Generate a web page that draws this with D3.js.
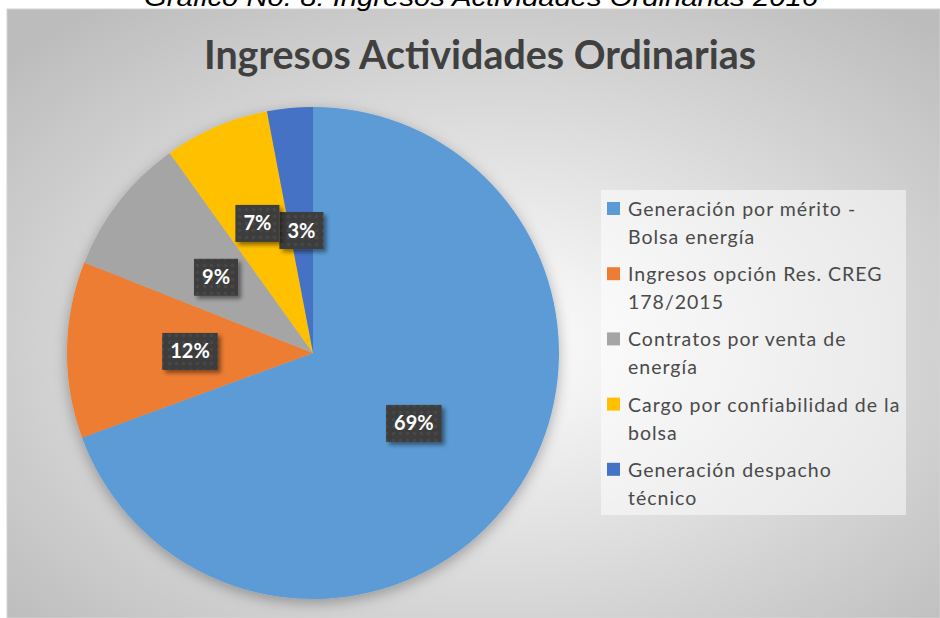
<!DOCTYPE html>
<html>
<head>
<meta charset="utf-8">
<script src="https://cdn.jsdelivr.net/npm/d3@7/dist/d3.min.js"></script>
<style>
  body { margin: 0; background: #fff; }
  svg { display: block; }
</style>
</head>
<body>
<svg id="chart" width="940" height="618"></svg>
<script>
  var caption = 'Gráfico No. 8: Ingresos Actividades Ordinarias 2016';
  var title = 'Ingresos Actividades Ordinarias';
  var categories = [
    'Generación por mérito -\nBolsa energía',
    'Ingresos opción Res. CREG\n178/2015',
    'Contratos por venta de\nenergía',
    'Cargo por confiabilidad de la\nbolsa',
    'Generación despacho\ntécnico'
  ];
  var values = [69.4, 11.6, 9.1, 6.9, 3.0];
  var colors = ['#5b9bd5', '#ed7d31', '#a5a5a5', '#ffc000', '#4472c4'];

  var svg = d3.select('#chart');
  var defs = svg.append('defs');

  // chart area background, white in the middle and grey at the edges
  var grad = defs.append('radialGradient')
    .attr('id', 'bg')
    .attr('cx', '52%').attr('cy', '55%').attr('r', '70%');
  grad.append('stop').attr('offset', '0%').attr('stop-color', '#ffffff');
  grad.append('stop').attr('offset', '100%').attr('stop-color', '#bcbcbc');

  var pieShadow = defs.append('filter').attr('id', 'pieShadow')
    .attr('x', '-20%').attr('y', '-20%').attr('width', '140%').attr('height', '140%');
  pieShadow.append('feDropShadow')
    .attr('dx', 0).attr('dy', 4).attr('stdDeviation', 7)
    .attr('flood-color', '#000').attr('flood-opacity', 0.3);

  var boxShadow = defs.append('filter').attr('id', 'boxShadow')
    .attr('x', '-30%').attr('y', '-30%').attr('width', '170%').attr('height', '170%');
  boxShadow.append('feDropShadow')
    .attr('dx', 3).attr('dy', 3).attr('stdDeviation', 2)
    .attr('flood-color', '#000').attr('flood-opacity', 0.45);

  var dots = defs.append('pattern').attr('id', 'dots')
    .attr('width', 7).attr('height', 7).attr('patternUnits', 'userSpaceOnUse');
  dots.append('rect').attr('width', 7).attr('height', 7).attr('fill', '#3d3d3d');
  dots.append('circle').attr('cx', 3.5).attr('cy', 3.5).attr('r', 1.8).attr('fill', '#474747');

  var area = { x: 7, y: 9, w: 940 - 7, h: 618 - 9 };

  svg.append('rect')
    .attr('x', area.x).attr('y', area.y)
    .attr('width', area.w).attr('height', area.h)
    .attr('fill', 'url(#bg)')
    .attr('stroke', '#d4d4d4');

  // figure caption, cut off by the top edge in the source
  svg.append('text')
    .attr('x', 481).attr('y', 6)
    .attr('text-anchor', 'middle')
    .style('font-family', '"Liberation Sans", Arial, sans-serif')
    .style('font-style', 'italic')
    .style('font-size', '25px')
    .attr('fill', '#000')
    .attr('textLength', 674).attr('lengthAdjust', 'spacingAndGlyphs')
    .text(caption);

  svg.append('text')
    .attr('x', 480).attr('y', 69)
    .attr('text-anchor', 'middle')
    .style('font-family', 'Lato, "Open Sans", sans-serif')
    .style('font-weight', 'bold')
    .style('font-size', '41px')
    .attr('fill', '#404040')
    .attr('textLength', 552).attr('lengthAdjust', 'spacingAndGlyphs')
    .text(title);

  // pie
  var cx = 313, cy = 353, radius = 246;
  var pie = d3.pie().sort(null).value(function(d) { return d; });
  var arcs = pie(values);
  var arc = d3.arc().innerRadius(0).outerRadius(radius);

  var pieG = svg.append('g')
    .attr('transform', 'translate(' + cx + ',' + cy + ')');

  pieG.append('g')
    .attr('filter', 'url(#pieShadow)')
    .selectAll('path')
    .data(arcs)
    .enter().append('path')
    .attr('d', arc)
    .attr('fill', function(d, i) { return colors[i]; });

  // data labels: boxes at half radius, pushed outward if they collide
  var fmt = d3.format('.0%');
  var labelG = pieG.append('g');
  var placed = [];
  var order = d3.range(arcs.length).reverse();

  order.forEach(function(i) {
    var a = arcs[i];
    var mid = (a.startAngle + a.endAngle) / 2;
    var g = labelG.append('g');
    var rect = g.append('rect');
    var t = g.append('text')
      .attr('text-anchor', 'middle')
      .attr('dy', '0.35em')
      .style('font-family', 'Lato, "Open Sans", sans-serif')
      .style('font-weight', 'bold')
      .style('font-size', '20px')
      .attr('fill', '#fff')
      .text(fmt(values[i] / 100));
    var w = t.node().getComputedTextLength() + 16;
    var h = 37;
    var d = radius * 0.5;
    var box;
    for (var step = 0; step < 200; step++) {
      var x = Math.sin(mid) * d, y = -Math.cos(mid) * d;
      box = { x0: x - w / 2, x1: x + w / 2, y0: y - h / 2, y1: y + h / 2, x: x, y: y };
      var hit = placed.some(function(p) {
        return box.x0 < p.x1 && box.x1 > p.x0 && box.y0 < p.y1 && box.y1 > p.y0;
      });
      if (!hit) break;
      d += 1;
    }
    placed.push(box);
    rect.attr('x', box.x0).attr('y', box.y0)
      .attr('width', w).attr('height', h)
      .attr('fill', 'url(#dots)')
      .attr('filter', 'url(#boxShadow)');
    t.attr('x', box.x).attr('y', box.y);
  });

  // legend
  var legend = svg.append('g').attr('transform', 'translate(601,190)');
  legend.append('rect')
    .attr('width', 305).attr('height', 325)
    .attr('fill', '#fff').attr('fill-opacity', 0.5);

  var item = legend.selectAll('g.item')
    .data(categories)
    .enter().append('g')
    .attr('class', 'item')
    .attr('transform', function(d, i) { return 'translate(0,' + (i * 65.2) + ')'; });

  item.append('rect')
    .attr('x', 6).attr('y', 12)
    .attr('width', 13).attr('height', 13)
    .attr('fill', function(d, i) { return colors[i]; });

  item.append('text')
    .style('font-family', 'Lato, "Open Sans", sans-serif')
    .style('font-size', '19.5px')
    .style('letter-spacing', '1px')
    .attr('fill', '#4a4a4a')
    .selectAll('tspan')
    .data(function(d) { return d.split('\n'); })
    .enter().append('tspan')
    .attr('x', 27)
    .attr('y', function(d, j) { return 26 + j * 28; })
    .text(function(d) { return d; });
</script>
</body>
</html>
